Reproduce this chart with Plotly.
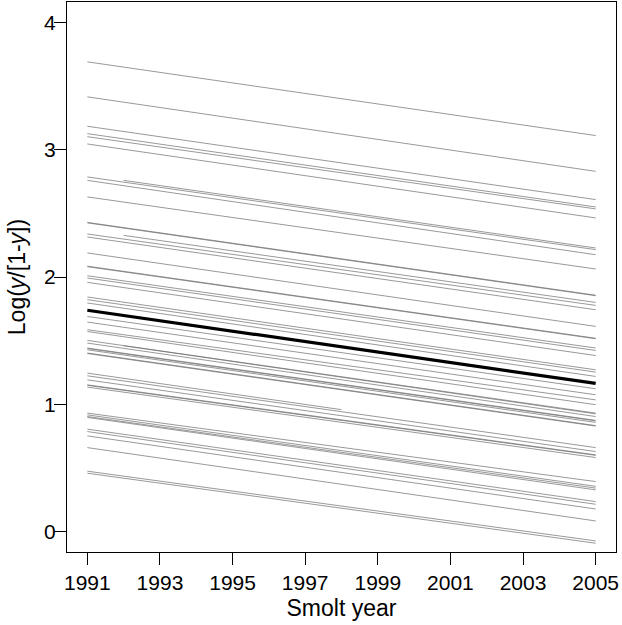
import plotly.graph_objects as go

# fitted lines per river: start year, end year, value at start, value at end
start_year = [1991, 1991, 1991, 1991, 1991, 1991, 1991, 1991, 1992, 1991,
              1991, 1991, 1991, 1991, 1992, 1991, 1991, 1991, 1991, 1991,
              1991, 1991, 1991, 1991, 1991, 1991, 1991, 1991, 1991, 1991,
              1992, 1991, 1991, 1991, 1991, 1991, 1991, 1991, 1991, 1991,
              1991, 1991, 1991, 1991, 1991, 1991, 1991, 1991, 1991, 1991,
              1991, 1991]
end_year = [2005, 2005, 2005, 2005, 2005, 2005, 2005, 2005, 2005, 2005,
            2005, 2005, 2005, 2005, 2005, 2005, 2005, 2005, 2005, 2005,
            2005, 2005, 2005, 2005, 2005, 2005, 2005, 2005, 2005, 2005,
            2005, 2005, 2005, 2005, 2005, 1998, 2005, 2005, 2005, 2005,
            2005, 2005, 2005, 2005, 2005, 2005, 2005, 2005, 2005, 2005,
            2005, 2005]
start_val = [3.690, 3.415, 3.184, 3.126, 3.102, 3.045, 2.786, 2.759, 2.759, 2.629,
             2.425, 2.429, 2.338, 2.314, 2.327, 2.189, 2.081, 2.085, 2.010, 1.992,
             1.958, 1.843, 1.822, 1.796, 1.690, 1.646, 1.586, 1.572, 1.502, 1.481,
             1.460, 1.442, 1.438, 1.428, 1.403, 1.245, 1.399, 1.224, 1.192, 1.153,
             1.149, 1.135, 0.931, 0.917, 0.904, 0.897, 0.805, 0.786, 0.752, 0.660,
             0.475, 0.459]
end_val = [3.111, 2.830, 2.608, 2.550, 2.535, 2.464, 2.215, 2.175, 2.228, 2.063,
           1.853, 1.857, 1.777, 1.743, 1.800, 1.612, 1.515, 1.519, 1.442, 1.423,
           1.383, 1.271, 1.253, 1.219, 1.122, 1.075, 1.035, 0.997, 0.931, 0.904,
           0.925, 0.874, 0.870, 0.858, 0.833, 0.958, 0.829, 0.660, 0.629, 0.603,
           0.599, 0.582, 0.393, 0.356, 0.342, 0.328, 0.236, 0.215, 0.178, 0.084,
           -0.073, -0.091]

# overall mean line
mean_years = [1991, 2005]
mean_vals = [1.739, 1.164]

tick_years = [1991, 1993, 1995, 1997, 1999, 2001, 2003, 2005]
tick_vals = [0, 1, 2, 3, 4]

fig = go.Figure()
for i in range(len(start_val)):
    fig.add_trace(go.Scatter(x=[start_year[i], end_year[i]], y=[start_val[i], end_val[i]],
                             mode="lines", line=dict(color="rgba(105,105,105,0.68)", width=1),
                             showlegend=False, hoverinfo="skip"))

fig.add_trace(go.Scatter(x=mean_years, y=mean_vals, mode="lines",
                         line=dict(color="black", width=3.2), showlegend=False))

tick_font = dict(family="Liberation Sans, Arial, sans-serif", size=21, color="black")
title_font = dict(family="Liberation Sans, Arial, sans-serif", size=23, color="black")

fig.update_layout(
    width=622, height=625,
    margin=dict(l=67, r=6, t=2, b=73),
    paper_bgcolor="white", plot_bgcolor="white",
    font=tick_font,
    xaxis=dict(range=[1990.44, 2005.56], tickvals=tick_years, ticktext=[str(y) for y in tick_years],
               ticks="outside", ticklen=12, tickwidth=1, tickcolor="black",
               showline=True, linecolor="black", linewidth=1, mirror=True,
               showgrid=False, zeroline=False, tickfont=tick_font, automargin=False,
               title=dict(text="Smolt year", font=title_font, standoff=6)),
    yaxis=dict(range=[-0.16, 4.16], tickvals=tick_vals,
               ticks="outside", ticklen=12, tickwidth=1, tickcolor="black",
               showline=True, linecolor="black", linewidth=1, mirror=True,
               showgrid=False, zeroline=False, tickfont=tick_font, automargin=False,
               ticklabelstandoff=-6,
               title=dict(text="Log(<i>y</i>/[1-<i>y</i>])", font=title_font, standoff=12)),
)

# drop the page's default body margin so the figure sits at the window corner
fig.write_html("out.html", config={"displayModeBar": False},
               post_script="document.body.style.margin='0';")
